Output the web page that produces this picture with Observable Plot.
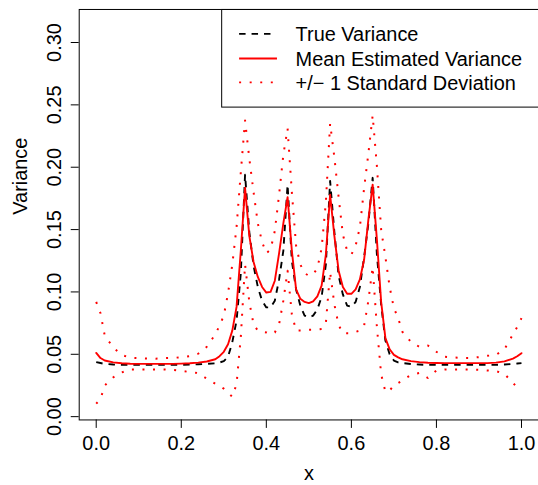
<!DOCTYPE html>
<html>
<head>
<meta charset="utf-8">
<script src="https://cdn.jsdelivr.net/npm/d3@7"></script>
<script src="https://cdn.jsdelivr.net/npm/@observablehq/plot@0.6"></script>
<style>
  html, body { margin: 0; padding: 0; overflow: hidden; background: white; }
  #chart svg { display: block; }
</style>
</head>
<body>
<div id="chart"></div>
<script>
// ---- data ----
const xs = [0, 0.01, 0.02, 0.04, 0.06, 0.08, 0.10, 0.12, 0.14, 0.16, 0.18, 0.20, 0.22, 0.24, 0.26,
  0.28, 0.29, 0.30, 0.31, 0.32, 0.33, 0.34, 0.35, 0.36, 0.37, 0.38, 0.39, 0.40, 0.41, 0.42, 0.43, 0.44,
  0.45, 0.46, 0.47, 0.48, 0.49, 0.50, 0.51, 0.52, 0.53, 0.54, 0.55, 0.56, 0.57, 0.58, 0.59, 0.60, 0.61,
  0.62, 0.63, 0.64, 0.65, 0.66, 0.67, 0.68, 0.69, 0.70, 0.71, 0.72,
  0.74, 0.76, 0.78, 0.80, 0.82, 0.84, 0.86, 0.88, 0.90, 0.92, 0.94, 0.96, 0.98, 0.99, 1.00];

const trueVariance = [0.0437, 0.0430, 0.0423, 0.0418, 0.0415, 0.0415, 0.0415, 0.0415, 0.0415, 0.0415, 0.0415, 0.0416, 0.0418, 0.0420, 0.0423,
  0.0428, 0.0434, 0.0445, 0.0480, 0.0597, 0.0770, 0.1150, 0.1940, 0.1480, 0.1210, 0.1040, 0.0930, 0.0876, 0.0876, 0.0930, 0.1100, 0.1330,
  0.1860, 0.1250, 0.1020, 0.0890, 0.0810, 0.0796, 0.0810, 0.0860, 0.0960, 0.1220, 0.1890, 0.1480, 0.1130, 0.0980, 0.0890, 0.0880, 0.0920,
  0.1040, 0.1280, 0.1550, 0.1915, 0.1300, 0.0900, 0.0610, 0.0500, 0.0450, 0.0435, 0.0430,
  0.0422, 0.0418, 0.0415, 0.0415, 0.0415, 0.0415, 0.0415, 0.0415, 0.0415, 0.0415, 0.0415, 0.0418, 0.0423, 0.0426, 0.0429];

const meanEstimated = [0.0511, 0.0470, 0.0450, 0.0435, 0.0428, 0.0424, 0.0423, 0.0423, 0.0423, 0.0423, 0.0423, 0.0425, 0.0428, 0.0433, 0.0442,
  0.0460, 0.0485, 0.0520, 0.0580, 0.0690, 0.0880, 0.1330, 0.1835, 0.1450, 0.1240, 0.1120, 0.1040, 0.0995, 0.1000, 0.1090, 0.1310, 0.1550,
  0.1760, 0.1330, 0.1020, 0.0945, 0.0920, 0.0910, 0.0925, 0.0965, 0.1050, 0.1300, 0.1780, 0.1450, 0.1170, 0.1040, 0.0985, 0.0985, 0.1020,
  0.1100, 0.1260, 0.1580, 0.1860, 0.1420, 0.0920, 0.0630, 0.0540, 0.0495, 0.0475, 0.0460,
  0.0445, 0.0437, 0.0432, 0.0430, 0.0429, 0.0429, 0.0429, 0.0429, 0.0429, 0.0429, 0.0433, 0.0443, 0.0465, 0.0484, 0.0509];

const upperSD = [0.0920, 0.0830, 0.0650, 0.0555, 0.0495, 0.0472, 0.0469, 0.0466, 0.0465, 0.0469, 0.0471, 0.0476, 0.0485, 0.0505, 0.0560,
  0.0660, 0.0730, 0.0810, 0.0990, 0.1220, 0.1520, 0.1960, 0.2375, 0.2070, 0.1800, 0.1550, 0.1400, 0.1310, 0.1340, 0.1490, 0.1780, 0.2100,
  0.2310, 0.1800, 0.1370, 0.1220, 0.1150, 0.1130, 0.1140, 0.1190, 0.1350, 0.1720, 0.2350, 0.2080, 0.1760, 0.1460, 0.1330, 0.1300, 0.1370,
  0.1520, 0.1835, 0.2110, 0.2415, 0.2010, 0.1500, 0.1280, 0.1040, 0.0870, 0.0790, 0.0680,
  0.0600, 0.0560, 0.0570, 0.0520, 0.0480, 0.0475, 0.0471, 0.0471, 0.0477, 0.0488, 0.0495, 0.0540, 0.0660, 0.0720, 0.0790];

const lowerSD = [0.0104, 0.0140, 0.0250, 0.0315, 0.0355, 0.0378, 0.0378, 0.0378, 0.0378, 0.0378, 0.0375, 0.0368, 0.0357, 0.0350, 0.0304,
  0.0265, 0.0245, 0.0224, 0.0190, 0.0160, 0.0260, 0.0640, 0.1220, 0.0920, 0.0740, 0.0690, 0.0680, 0.0675, 0.0660, 0.0675, 0.0740, 0.0930,
  0.1170, 0.0820, 0.0690, 0.0690, 0.0690, 0.0697, 0.0697, 0.0700, 0.0703, 0.0750, 0.1160, 0.0900, 0.0735, 0.0670, 0.0668, 0.0668, 0.0680,
  0.0690, 0.0730, 0.0930, 0.1200, 0.0720, 0.0340, 0.0200, 0.0210, 0.0250, 0.0270, 0.0290,
  0.0335, 0.0350, 0.0310, 0.0370, 0.0378, 0.0378, 0.0378, 0.0378, 0.0375, 0.0370, 0.0365, 0.0343, 0.0270, 0.0235, 0.0210];

const xTicks = [0, 0.2, 0.4, 0.6, 0.8, 1.0];
const yTicks = [0, 0.05, 0.10, 0.15, 0.20, 0.25, 0.30];
const legendLabels = ["True Variance", "Mean Estimated Variance", "+/\u2212 1 Standard Deviation"];

// ---- build tables ----
const rows = (vals) => xs.map((x, i) => ({x, v: vals[i]}));
const font = "'Liberation Sans', Arial, Helvetica, sans-serif";
const dotted = "2,8.6";
const dashed = "6.5,6";

const svg = Plot.plot({
  width: 540,
  height: 485,
  marginLeft: 79,
  marginRight: 0,
  marginTop: 9,
  marginBottom: 64,
  style: {fontFamily: font, fontSize: "20px", color: "black", background: "white"},
  x: {domain: [-0.04, 1.04]},
  y: {domain: [-0.00264, 0.3265]},
  marks: [
    Plot.line(rows(upperSD), {x: "x", y: "v", stroke: "red", strokeWidth: 2, strokeDasharray: dotted, strokeLinecap: "butt"}),
    Plot.line(rows(lowerSD), {x: "x", y: "v", stroke: "red", strokeWidth: 2, strokeDasharray: dotted, strokeLinecap: "butt"}),
    Plot.line(rows(trueVariance), {x: "x", y: "v", stroke: "black", strokeWidth: 1.9, strokeDasharray: dashed, strokeLinecap: "butt"}),
    Plot.line(rows(meanEstimated), {x: "x", y: "v", stroke: "red", strokeWidth: 1.9}),
    Plot.frame({stroke: "black", strokeWidth: 1}),
    Plot.axisX({ticks: xTicks, tickFormat: d3.format(".1f"), tickSize: 8.5, tickPadding: 7.3, label: null, fontSize: 20}),
    Plot.axisY({ticks: yTicks, tickFormat: d3.format(".2f"), tickSize: 8, tickPadding: 10, tickRotate: -90, label: null, fontSize: 20}),
    Plot.text(["x"], {frameAnchor: "bottom", dy: 60.5, fontSize: 20, fill: "black"}),
    Plot.text(["Variance"], {frameAnchor: "left", dx: -58.7, rotate: -90, fontSize: 20, fill: "black"})
  ]
});

// ---- legend (top right, like R's legend box) ----
const g = d3.select(svg).append("g").attr("font-family", font).attr("font-size", 20).attr("text-anchor", "start");
g.append("rect").attr("x", 222.5).attr("y", 9.5).attr("width", 330).attr("height", 98)
  .attr("fill", "white").attr("stroke", "black").attr("stroke-width", 1);
const rowsY = [34, 58.7, 82.7];
const legStyles = [
  {stroke: "black", dash: dashed, x2: 272},
  {stroke: "red", dash: null, x2: 278},
  {stroke: "red", dash: dotted, x2: 278}
];
legStyles.forEach((s, i) => {
  const l = g.append("line").attr("x1", 240).attr("x2", s.x2).attr("y1", rowsY[i]).attr("y2", rowsY[i])
    .attr("stroke", s.stroke).attr("stroke-width", 1.9).attr("stroke-linecap", "butt");
  if (s.dash) l.attr("stroke-dasharray", s.dash);
  g.append("text").attr("x", 296.7).attr("y", rowsY[i] + 7.2).attr("fill", "black")
    .attr("text-anchor", "start").text(legendLabels[i]);
});

document.getElementById("chart").appendChild(svg);
</script>
</body>
</html>
